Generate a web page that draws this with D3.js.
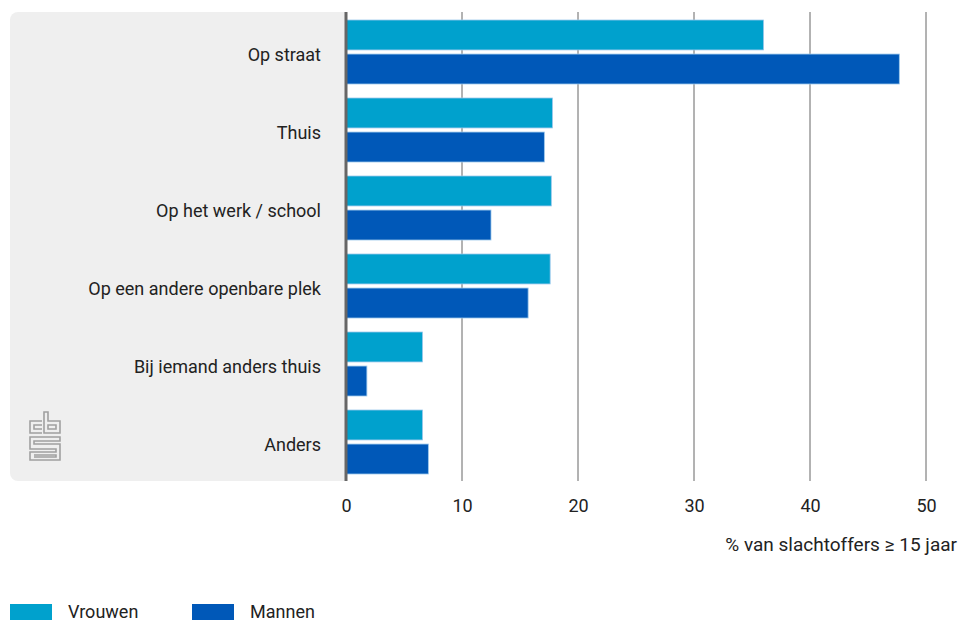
<!DOCTYPE html>
<html>
<head>
<meta charset="utf-8">
<script src="https://cdn.jsdelivr.net/npm/d3@7"></script>
<style>
  body { margin: 0; background: #fff; }
  text { font-family: Roboto, "Noto Sans", sans-serif; fill: #222; }
</style>
</head>
<body>
<div id="chart"></div>
<script>
  const categories = ["Op straat", "Thuis", "Op het werk / school", "Op een andere openbare plek", "Bij iemand anders thuis", "Anders"];
  const vrouwen = [36.0, 17.8, 17.7, 17.6, 6.6, 6.6];
  const mannen = [47.7, 17.1, 12.5, 15.7, 1.8, 7.1];
  const seriesNames = ["Vrouwen", "Mannen"];
  const colors = ["#00a1cd", "#0058b8"];
  const ticks = [0, 10, 20, 30, 40, 50];

  const width = 961, height = 621;
  const svg = d3.select("#chart").append("svg")
      .attr("width", width)
      .attr("height", height);

  const x = d3.scaleLinear().domain([0, 50]).range([346, 926]);
  const y = d3.scaleBand().domain(categories).range([12, 480]).paddingInner(0).paddingOuter(0);
  const inner = d3.scaleBand().domain(seriesNames).range([8, y.bandwidth() - 6]).paddingInner(0.12);

  // grey label panel
  svg.append("rect")
      .attr("x", 10).attr("y", 12)
      .attr("width", x(0) - 10 + 8).attr("height", 469)
      .attr("rx", 8)
      .attr("fill", "#efefef");
  svg.append("rect")
      .attr("x", x(0)).attr("y", 12)
      .attr("width", 10).attr("height", 469)
      .attr("fill", "#fff");

  // gridlines
  svg.append("g").selectAll("line")
    .data(ticks.slice(1))
    .join("line")
      .attr("x1", d => x(d)).attr("x2", d => x(d))
      .attr("y1", 12).attr("y2", 481)
      .attr("stroke", "#666").attr("stroke-width", 1);

  // bars
  const rows = categories.map((c, i) => ({cat: c, vals: [vrouwen[i], mannen[i]]}));
  const g = svg.append("g").selectAll("g")
    .data(rows)
    .join("g")
      .attr("transform", d => `translate(0,${y(d.cat)})`);

  g.selectAll("rect")
    .data(d => d.vals.map((v, j) => ({v: v, s: seriesNames[j], c: colors[j]})))
    .join("rect")
      .attr("x", x(0))
      .attr("y", d => inner(d.s))
      .attr("width", d => x(d.v) - x(0))
      .attr("height", inner.bandwidth())
      .attr("fill", d => d.c)
      .attr("stroke", "#9cc8ec")
      .attr("stroke-width", 0.8);

  // category labels
  g.append("text")
      .attr("x", 321)
      .attr("y", y.bandwidth() / 2 + 3)
      .attr("text-anchor", "end")
      .attr("dominant-baseline", "central")
      .attr("font-size", 18)
      .text(d => d.cat);

  // axis line at zero
  svg.append("line")
      .attr("x1", x(0)).attr("x2", x(0))
      .attr("y1", 12).attr("y2", 481)
      .attr("stroke", "#666").attr("stroke-width", 3);

  // tick labels
  const xAxis = d3.axisBottom(x).tickValues(ticks).tickSize(0).tickPadding(0);
  const ax = svg.append("g")
      .attr("transform", "translate(0,499)")
      .call(xAxis);
  ax.select(".domain").remove();
  ax.selectAll("text")
      .attr("font-size", 18)
      .attr("font-family", "Roboto, sans-serif")
      .attr("fill", "#222");

  svg.append("text")
      .attr("x", 957).attr("y", 551)
      .attr("text-anchor", "end")
      .attr("font-size", 19)
      .text("% van slachtoffers \u2265 15 jaar");

  // legend
  const leg = svg.append("g").selectAll("g")
    .data(seriesNames)
    .join("g")
      .attr("transform", (d, i) => `translate(${10 + i * 182},604)`);
  leg.append("rect")
      .attr("width", 42).attr("height", 16)
      .attr("fill", (d, i) => colors[i]);
  leg.append("text")
      .attr("x", 58).attr("y", 7)
      .attr("dominant-baseline", "central")
      .attr("font-size", 18)
      .text(d => d);

  // cbs logo
  const logo = svg.append("g")
      .attr("fill", "none")
      .attr("stroke", "#a0a0a0")
      .attr("stroke-width", 1.6);
  logo.append("path").attr("d", "M42,421 H30 V433 H42 M42,425 H34 V429 H42");
  logo.append("path").attr("d", "M44,412 V433 H60 V421 H48 V412 Z M48,425 H56 V429 H48 Z");
  logo.append("path").attr("d", "M60,437 H30 V449 H56 V452 H30 V460 H60 V444 H34 V441 H60 Z M34,455 H56 V457 H34");
</script>
</body>
</html>
